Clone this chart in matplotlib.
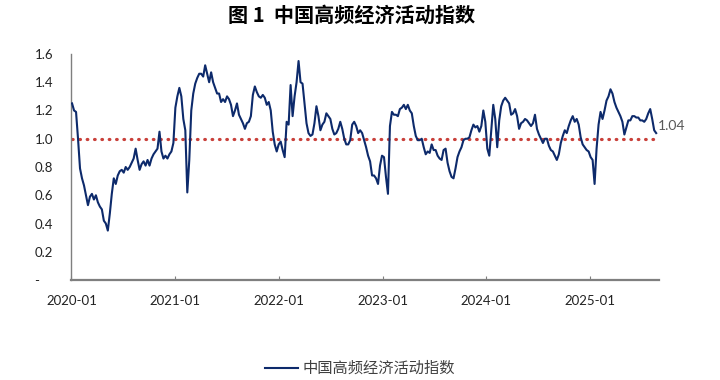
import numpy as np
import pandas as pd
import matplotlib
matplotlib.use("Agg")
import matplotlib.pyplot as plt
import matplotlib.dates as mdates
from matplotlib.ticker import FuncFormatter

plt.rcParams['font.family'] = ['Lato', 'Noto Sans CJK SC', 'DejaVu Sans']

# weekly index values
v2020 = [1.25, 1.20, 1.19, 1.00, 0.79, 0.72, 0.67, 0.60, 0.53, 0.59,
         0.61, 0.57, 0.60, 0.55, 0.52, 0.50, 0.42, 0.40, 0.35, 0.47,
         0.61, 0.72, 0.68, 0.74, 0.77, 0.78, 0.76, 0.80, 0.78, 0.80,
         0.83, 0.86, 0.93, 0.85, 0.78, 0.82, 0.84, 0.81, 0.85, 0.81,
         0.86, 0.89, 0.91, 0.93, 1.05, 0.91, 0.86, 0.88, 0.86, 0.89,
         0.91, 0.97]
v2021 = [1.22, 1.30, 1.36, 1.30, 1.14, 1.06, 0.62, 0.85, 1.20, 1.32,
         1.39, 1.43, 1.46, 1.46, 1.44, 1.52, 1.46, 1.40, 1.47, 1.40,
         1.36, 1.32, 1.32, 1.26, 1.28, 1.26, 1.30, 1.28, 1.24, 1.16,
         1.20, 1.25, 1.17, 1.14, 1.11, 1.07, 1.11, 1.12, 1.16, 1.31,
         1.37, 1.33, 1.30, 1.29, 1.31, 1.29, 1.24, 1.26, 1.20, 1.05,
         0.96, 0.91]
v2022 = [0.96, 0.98, 0.92, 0.87, 1.12, 1.10, 1.38, 1.16, 1.30, 1.40,
         1.55, 1.40, 1.39, 1.25, 1.11, 1.04, 1.02, 1.03, 1.11, 1.23,
         1.16, 1.06, 1.10, 1.12, 1.18, 1.16, 1.14, 1.07, 1.03, 1.04,
         1.07, 1.12, 1.07, 1.00, 0.96, 0.96, 0.99, 1.10, 1.12, 1.09,
         1.04, 1.06, 1.04, 0.99, 0.94, 0.88, 0.84, 0.74, 0.74, 0.72,
         0.68, 0.81]
v2023 = [0.88, 0.87, 0.73, 0.61, 1.09, 1.19, 1.17, 1.17, 1.16, 1.21,
         1.22, 1.24, 1.21, 1.24, 1.20, 1.18, 1.09, 1.02, 0.99, 0.99,
         1.00, 0.94, 0.89, 0.91, 0.90, 0.96, 0.92, 0.92, 0.88, 0.86,
         0.85, 0.92, 0.93, 0.83, 0.77, 0.73, 0.72, 0.79, 0.87, 0.91,
         0.94, 0.99, 1.00, 1.00, 1.01, 1.06, 1.10, 1.08, 1.09, 1.05,
         1.09, 1.20]
v2024 = [1.12, 0.93, 0.88, 1.06, 1.24, 1.14, 0.94, 1.13, 1.23, 1.27,
         1.29, 1.27, 1.25, 1.17, 1.18, 1.21, 1.16, 1.07, 1.11, 1.12,
         1.14, 1.13, 1.11, 1.09, 1.11, 1.17, 1.07, 1.03, 1.00, 0.97,
         1.00, 1.00, 0.95, 0.92, 0.91, 0.88, 0.85, 0.89, 0.97, 1.02,
         1.06, 1.04, 1.09, 1.13, 1.16, 1.12, 1.14, 1.10, 1.01, 0.96,
         0.94, 0.92, 0.91]
v2025 = [0.87, 0.85, 0.68, 0.93, 1.10, 1.19, 1.14, 1.20, 1.27, 1.30,
         1.35, 1.32, 1.26, 1.22, 1.19, 1.16, 1.12, 1.03, 1.08, 1.13,
         1.13, 1.16, 1.16, 1.15, 1.15, 1.13, 1.13, 1.12, 1.14, 1.18,
         1.21, 1.14, 1.06, 1.04]

values = np.array(v2020 + v2021 + v2022 + v2023 + v2024 + v2025)
dates = pd.date_range("2020-01-03", periods=len(values), freq="7D")
baseline = 1.0
series_name = "中国高频经济活动指数"
title = "图 1  中国高频经济活动指数"
year_ticks = pd.date_range("2020-01-01", "2025-01-01", freq="YS")

fig = plt.figure(figsize=(7.2, 3.8), dpi=100)
ax = fig.add_axes([0.0993, 0.263, 0.816, 0.595])

line_color = "#0d2a6b"
ax.plot(dates, values, color=line_color, lw=1.5, label=series_name, zorder=3)
ax.plot([dates[0], dates[-1]], [baseline, baseline], color="#c9403a",
        lw=2.3, linestyle=(0, (0.2, 2.1)), dash_capstyle="round", zorder=2)

ax.annotate(f"{values[-1]:.2f}", (dates[-1], values[-1]), xytext=(1, 5),
            textcoords="offset points", fontsize=10, color="#595959",
            va="center", ha="left")

ax.set_ylim(0, 1.6)
ax.set_yticks(np.arange(0, 1.61, 0.2))
ax.yaxis.set_major_formatter(FuncFormatter(lambda v, p: "-    " if abs(v) < 1e-9 else f"{v:.1f}"))
ax.set_xlim(pd.Timestamp("2020-01-01"), pd.Timestamp("2025-09-01"))
ax.set_xticks(year_ticks)
ax.xaxis.set_major_formatter(mdates.DateFormatter("%Y-%m"))

for s in ("top", "right"):
    ax.spines[s].set_visible(False)
ax.spines["left"].set_color("#7f7f7f")
ax.spines["left"].set_linewidth(1.0)
ax.spines["bottom"].set_color("#7f7f7f")
ax.spines["bottom"].set_linewidth(1.6)

ax.tick_params(axis="y", length=0, pad=13, labelsize=9.5, colors="#222222")
ax.tick_params(axis="x", direction="in", length=3, width=0.8, color="#7f7f7f",
               pad=11, labelsize=9.5, labelcolor="#222222")

fig.text(0.488, 0.96, title, ha="center", va="center", fontsize=14.5,
         fontweight="bold", family=["Noto Sans CJK SC", "DejaVu Sans"])

leg = fig.legend(loc="center", bbox_to_anchor=(0.5, 0.03), frameon=False,
                 handlelength=2.2, handletextpad=0.3,
                 prop={"family": ["Noto Sans CJK SC"], "size": 11})
for t in leg.get_texts():
    t.set_color("#404040")

fig.savefig("out.png", dpi=100)
